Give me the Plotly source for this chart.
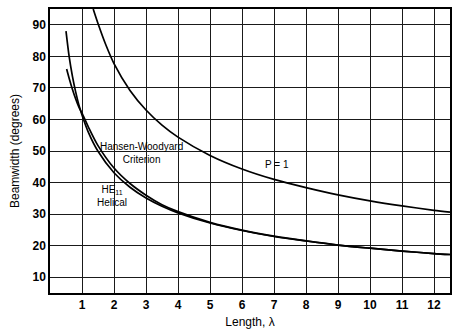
import plotly.graph_objects as go

# P = 1 (ordinary endfire) curve
p1_len = [1.35, 1.5, 1.75, 2.0, 2.5, 3.0, 3.5, 4.0, 5.0, 6.0, 7.0, 8.0, 9.0, 10.0, 11.0, 12.0, 12.5]
p1_bw = [95.0, 90.4, 83.5, 77.7, 69.2, 63.0, 58.2, 54.4, 48.6, 44.3, 41.0, 38.4, 36.1, 34.2, 32.6, 31.2, 30.6]

# Hansen-Woodyard criterion
hw_len = [0.5, 0.6, 0.7, 0.8, 0.9, 1.0, 1.2, 1.5, 2.0, 2.5, 3.0, 3.5, 4.0, 5.0, 6.0, 7.0, 8.0, 9.0, 10.0, 11.0, 12.0, 12.5]
hw_bw = [88.0, 79.8, 73.7, 68.8, 64.7, 61.4, 55.9, 49.9, 43.1, 38.5, 35.1, 32.5, 30.4, 27.2, 24.8, 22.9, 21.5, 20.2, 19.2, 18.3, 17.5, 17.2]

# HE11 helical
he_len = [0.52, 0.6, 0.7, 0.8, 0.9, 1.0, 1.2, 1.5, 2.0, 2.5, 3.0, 3.5, 4.0, 5.0, 6.0, 7.0, 8.0, 9.0, 10.0, 11.0, 12.0, 12.5]
he_bw = [76.0, 73.0, 69.6, 66.6, 64.0, 62.0, 57.6, 51.7, 44.6, 39.7, 36.0, 33.0, 30.8, 27.4, 24.9, 23.0, 21.5, 20.2, 19.2, 18.3, 17.5, 17.2]

x_ticks = list(range(1, 13))
y_ticks = [10, 20, 30, 40, 50, 60, 70, 80, 90]

FONT = "Liberation Sans, Arial, Helvetica, sans-serif"

fig = go.Figure()
for xs, ys in [(p1_len, p1_bw), (hw_len, hw_bw), (he_len, he_bw)]:
    fig.add_trace(go.Scatter(x=xs, y=ys, mode="lines",
                             line=dict(color="black", width=1.7, shape="spline", smoothing=0.8),
                             showlegend=False, hoverinfo="skip"))

ann = dict(showarrow=False, font=dict(family=FONT, size=10, color="black"), xref="x", yref="y")
fig.add_annotation(x=2.85, y=49.3, text="Hansen-Woodyard<br>Criterion", **ann)
fig.add_annotation(x=1.95, y=35.7, text="HE<sub>11</sub><br>Helical", **ann)
fig.add_annotation(x=7.1, y=45.6, text="P = 1", **ann)

axis_common = dict(showgrid=True, gridcolor="#1a1a1a", gridwidth=1, showline=True, linecolor="black",
                   linewidth=1.5, mirror=True, ticks="", zeroline=False,
                   tickfont=dict(family=FONT, size=12, color="black", weight="bold"))
fig.update_xaxes(range=[0, 12.5], tickvals=x_ticks, title=dict(text="Length, λ", standoff=6,
                 font=dict(family=FONT, size=12, color="black")), **axis_common)
fig.update_yaxes(range=[5, 95], tickvals=y_ticks, title=dict(text="Beamwidth (degrees)", standoff=10,
                 font=dict(family=FONT, size=12, color="black")), **axis_common)

fig.update_layout(width=459, height=334, margin=dict(l=50, r=9, t=7, b=41),
                  paper_bgcolor="white", plot_bgcolor="white")
fig.write_html("out.html")
